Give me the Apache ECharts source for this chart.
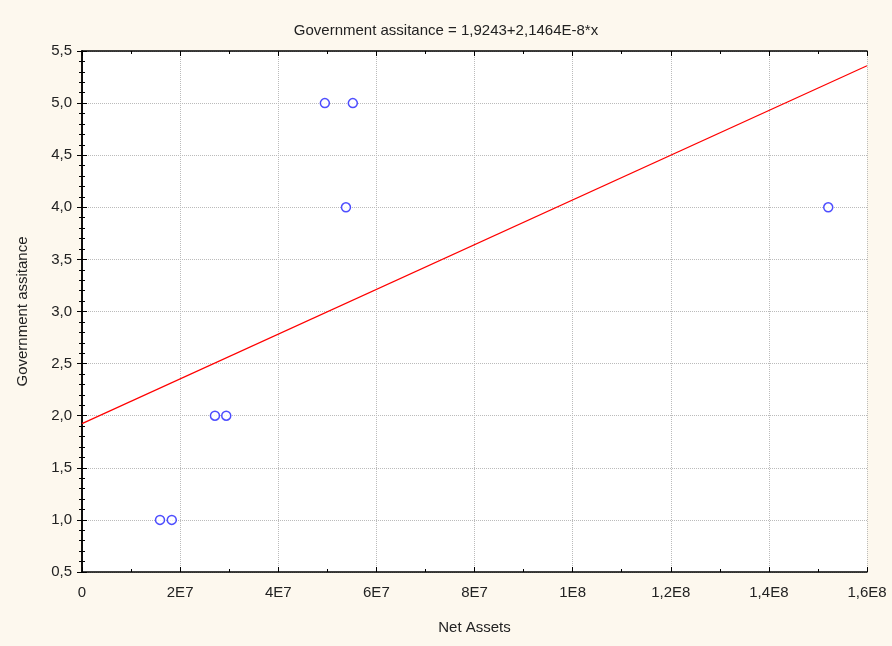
<!DOCTYPE html>
<html>
<head>
<meta charset="utf-8">
<script src="https://cdn.jsdelivr.net/npm/echarts@6/dist/echarts.min.js"></script>
<style>
html,body{margin:0;padding:0;background:#fdf8ee;}
#c{width:892px;height:646px;}
</style>
</head>
<body>
<div id="c"></div>
<script>
// Data
var netAssets = [1.59e7, 1.83e7, 2.71e7, 2.94e7, 4.95e7, 5.52e7, 5.38e7, 1.521e8];
var govAssist = [1, 1, 2, 2, 5, 5, 4, 4];
var xTickLabels = ['0', '2E7', '4E7', '6E7', '8E7', '1E8', '1,2E8', '1,4E8', '1,6E8'];
var yTickLabels = ['0,5', '1,0', '1,5', '2,0', '2,5', '3,0', '3,5', '4,0', '4,5', '5,0', '5,5'];
var intercept = 1.9243;
var slope = 2.1464e-8;
var xMin = 0, xMax = 1.6e8, xStep = 2e7;
var yMin = 0.5, yMax = 5.5, yStep = 0.5;

var points = netAssets.map(function (x, i) { return [x, govAssist[i]]; });
var fitLine = [[xMin, intercept + slope * xMin], [xMax, intercept + slope * xMax]];

var font = 'Liberation Sans, Arial, sans-serif';
var axisLine = { show: true, lineStyle: { color: '#000', width: 1.5 } };

function xAx(pos, labels) {
  return {
    type: 'value', position: pos, min: xMin, max: xMax, interval: xStep,
    axisLine: axisLine,
    axisTick: { show: true, inside: true, length: 5, lineStyle: { color: '#000' } },
    minorTick: { show: true, splitNumber: 2, length: 3, lineStyle: { color: '#000' } },
    axisLabel: labels ? {
      show: true, color: '#222', fontFamily: font, fontSize: 15, margin: 13,
      formatter: function (v) { return xTickLabels[Math.round((v - xMin) / xStep)]; }
    } : { show: false },
    splitLine: { show: labels, lineStyle: { color: '#bbb', type: 'dotted' } },
    name: labels ? 'Net Assets' : '', nameLocation: 'middle', nameGap: 48,
    nameTextStyle: { color: '#222', fontFamily: font, fontSize: 15 }
  };
}
function yAx(pos, labels) {
  return {
    type: 'value', position: pos, min: yMin, max: yMax, interval: yStep,
    axisLine: axisLine,
    axisTick: { show: true, inside: true, length: 5, lineStyle: { color: '#000' } },
    minorTick: { show: true, splitNumber: 5, length: 3, lineStyle: { color: '#000' } },
    axisLabel: labels ? {
      show: true, color: '#222', fontFamily: font, fontSize: 15, margin: 10,
      formatter: function (v) { return yTickLabels[Math.round((v - yMin) / yStep)]; }
    } : { show: false },
    splitLine: { show: labels, lineStyle: { color: '#bbb', type: 'dotted' } },
    name: labels ? 'Government assitance' : '', nameLocation: 'middle', nameGap: 52,
    nameTextStyle: { color: '#222', fontFamily: font, fontSize: 15 }
  };
}

var chart = echarts.init(document.getElementById('c'));
chart.setOption({
  backgroundColor: '#fdf8ee',
  animation: false,
  title: {
    text: 'Government assitance = 1,9243+2,1464E-8*x',
    left: 'center', top: 18,
    textStyle: { color: '#222', fontFamily: font, fontSize: 15, fontWeight: 'normal' }
  },
  grid: { left: 82, right: 25, top: 51, bottom: 74, show: true, backgroundColor: '#fff', borderWidth: 0 },
  xAxis: [xAx('bottom', true), xAx('top', false)],
  yAxis: [yAx('left', true), yAx('right', false)],
  series: [
    {
      type: 'line', data: fitLine, xAxisIndex: 0, yAxisIndex: 0,
      symbol: 'none', lineStyle: { color: '#ff0000', width: 1.2 }, z: 2
    },
    {
      type: 'scatter', data: points, xAxisIndex: 0, yAxisIndex: 0,
      symbol: 'circle', symbolSize: 9,
      itemStyle: { color: '#fff', borderColor: '#2222ff', borderWidth: 1.5 }, z: 3
    }
  ]
});
</script>
</body>
</html>
